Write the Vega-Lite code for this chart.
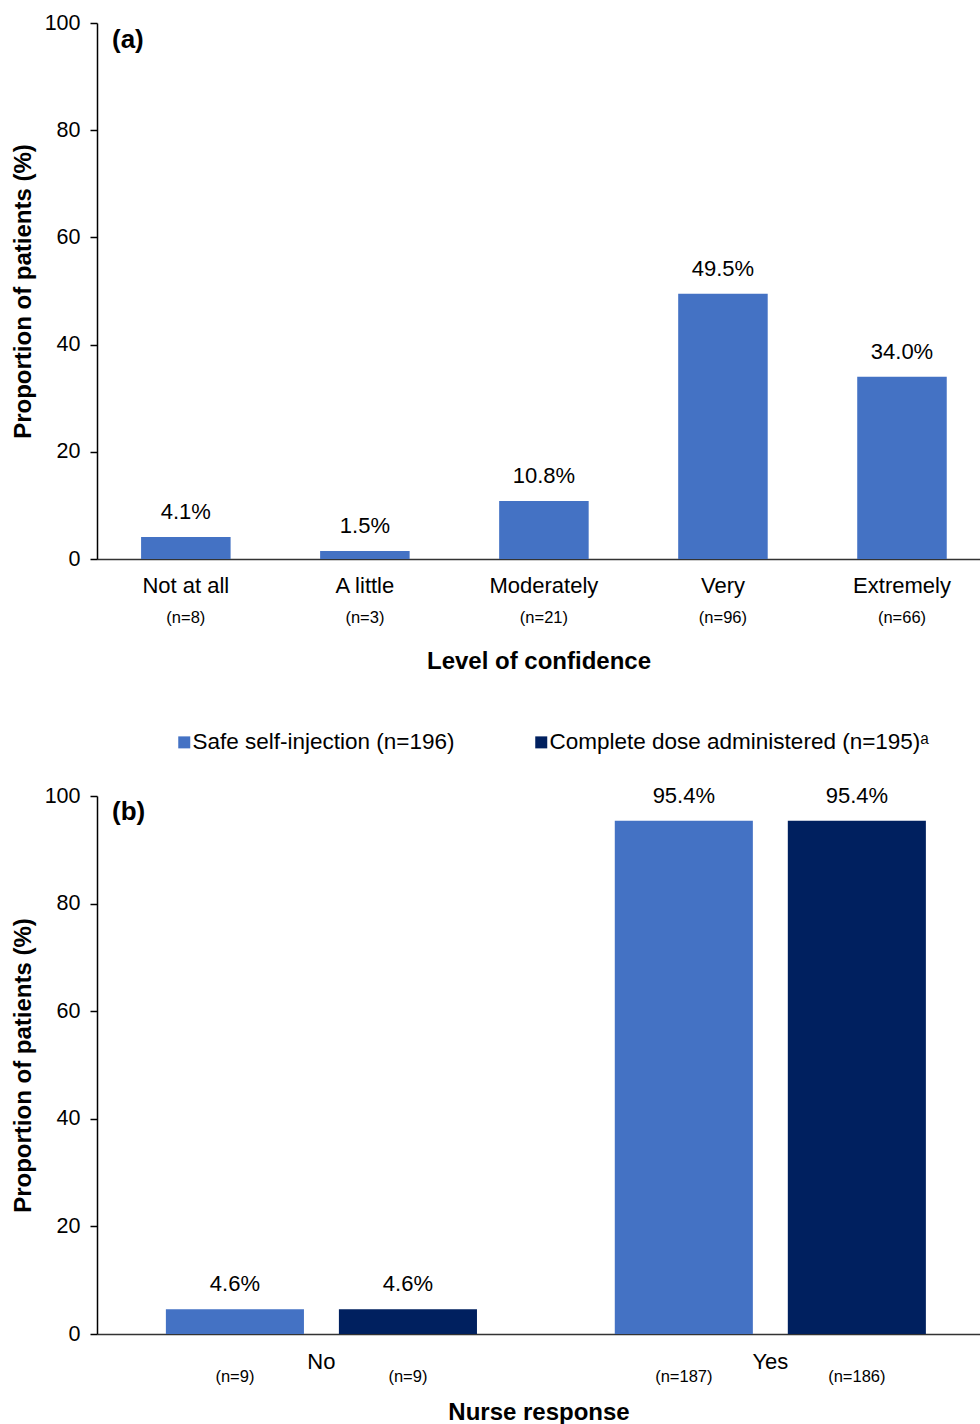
{
  "$schema": "https://vega.github.io/schema/vega-lite/v6.json",
  "padding": {"left": 11, "top": 12, "right": 0, "bottom": 0},
  "background": "white",
  "config": {
    "font": "Liberation Sans",
    "view": {"stroke": null},
    "axis": {"labelFont": "Liberation Sans", "titleFont": "Liberation Sans", "labelColor": "black", "titleColor": "black", "domainColor": "black", "tickColor": "black", "grid": false, "domainWidth": 1.5, "tickWidth": 1.5},
    "concat": {"spacing": 58},
    "text": {"font": "Liberation Sans", "color": "black"}
  },
  "resolve": {"scale": {"color": "independent"}, "legend": {"color": "independent"}},
  "vconcat": [
    {
      "width": 883,
      "height": 536,
      "title": {"text": "(a)", "anchor": "start", "frame": "group", "fontSize": 26, "fontWeight": "bold", "color": "black", "font": "Liberation Sans", "dx": 15, "dy": 41, "offset": 0},
      "data": {"values": [
        {"level": "Not at all", "pct": 4.1, "pct_label": "4.1%", "n_label": "(n=8)"},
        {"level": "A little", "pct": 1.5, "pct_label": "1.5%", "n_label": "(n=3)"},
        {"level": "Moderately", "pct": 10.8, "pct_label": "10.8%", "n_label": "(n=21)"},
        {"level": "Very", "pct": 49.5, "pct_label": "49.5%", "n_label": "(n=96)"},
        {"level": "Extremely", "pct": 34.0, "pct_label": "34.0%", "n_label": "(n=66)"}
      ]},
      "encoding": {
        "x": {"field": "level", "type": "nominal", "sort": null,
          "scale": {"paddingInner": 0.5, "paddingOuter": 0.216, "align": 0.57},
          "axis": {"title": "Level of confidence", "labelAngle": 0, "labelFontSize": 22, "labelPadding": 16, "ticks": false, "tickSize": 0, "titleFontSize": 24, "titleFontWeight": "bold", "titlePadding": 53, "domainColor": "#333333"}},
        "y": {"field": "pct", "type": "quantitative", "scale": {"domain": [0, 100]},
          "axis": {"title": "Proportion of patients (%)", "values": [0, 20, 40, 60, 80, 100], "labelFontSize": 21.5, "tickSize": 7, "labelPadding": 10, "titleFontSize": 24, "titleFontWeight": "bold", "titlePadding": 9}}
      },
      "layer": [
        {"mark": {"type": "bar", "color": "#4472c4"}},
        {"mark": {"type": "text", "fontSize": 22, "dy": -18, "baseline": "alphabetic"}, "encoding": {"text": {"field": "pct_label"}}},
        {"mark": {"type": "text", "fontSize": 16.5, "dy": 59, "baseline": "middle"},
          "encoding": {"y": {"datum": 0, "title": "Proportion of patients (%)"}, "text": {"field": "n_label"}}}
      ]
    },
    {
      "width": 883,
      "height": 538,
      "title": {"text": "(b)", "anchor": "start", "frame": "group", "fontSize": 26, "fontWeight": "bold", "color": "black", "font": "Liberation Sans", "dx": 15, "dy": 94, "offset": 0},
      "data": {"values": [
        {"response": "No", "measure": "Safe self-injection (n=196)", "pct": 4.6, "pct_label": "4.6%", "n_label": "(n=9)"},
        {"response": "No", "measure": "Complete dose administered (n=195)", "pct": 4.6, "pct_label": "4.6%", "n_label": "(n=9)"},
        {"response": "Yes", "measure": "Safe self-injection (n=196)", "pct": 95.4, "pct_label": "95.4%", "n_label": "(n=187)"},
        {"response": "Yes", "measure": "Complete dose administered (n=195)", "pct": 95.4, "pct_label": "95.4%", "n_label": "(n=186)"}
      ]},
      "encoding": {
        "x": {"field": "response", "type": "nominal", "sort": null,
          "scale": {"paddingInner": 0.307, "paddingOuter": 0.137, "align": 0.56},
          "axis": {"title": "Nurse response", "labelAngle": 0, "labelFontSize": 22, "labelPadding": 17, "ticks": false, "tickSize": 0, "titleFontSize": 24, "titleFontWeight": "bold", "titlePadding": 28, "domainColor": "#333333"}},
        "xOffset": {"field": "measure", "type": "nominal",
          "scale": {"domain": ["Safe self-injection (n=196)", "Complete dose administered (n=195)"], "paddingInner": 0.202, "paddingOuter": 0}},
        "y": {"field": "pct", "type": "quantitative", "scale": {"domain": [0, 100]},
          "axis": {"title": "Proportion of patients (%)", "values": [0, 20, 40, 60, 80, 100], "labelFontSize": 21.5, "tickSize": 7, "labelPadding": 10, "titleFontSize": 24, "titleFontWeight": "bold", "titlePadding": 9}}
      },
      "layer": [
        {"mark": {"type": "bar"},
          "encoding": {"color": {"field": "measure", "type": "nominal",
            "scale": {"domain": ["Safe self-injection (n=196)", "Complete dose administered (n=195)"], "range": ["#4472c4", "#00205f"]},
            "legend": {"title": null, "orient": "none", "legendX": 76, "legendY": -65, "direction": "horizontal", "symbolType": "square", "symbolSize": 144, "symbolStrokeWidth": 0, "labelFontSize": 22.5, "labelFont": "Liberation Sans", "labelColor": "black", "columnPadding": 75, "labelOffset": -3, "padding": 0, "labelLimit": 600,
              "labelExpr": "datum.label == 'Complete dose administered (n=195)' ? datum.label + 'ᵃ' : datum.label"}}}},
        {"mark": {"type": "text", "fontSize": 22, "dy": -18, "baseline": "alphabetic"}, "encoding": {"text": {"field": "pct_label"}}},
        {"mark": {"type": "text", "fontSize": 16.5, "dy": 43, "baseline": "middle"},
          "encoding": {"y": {"datum": 0, "title": "Proportion of patients (%)"}, "text": {"field": "n_label"}}}
      ]
    }
  ]
}
